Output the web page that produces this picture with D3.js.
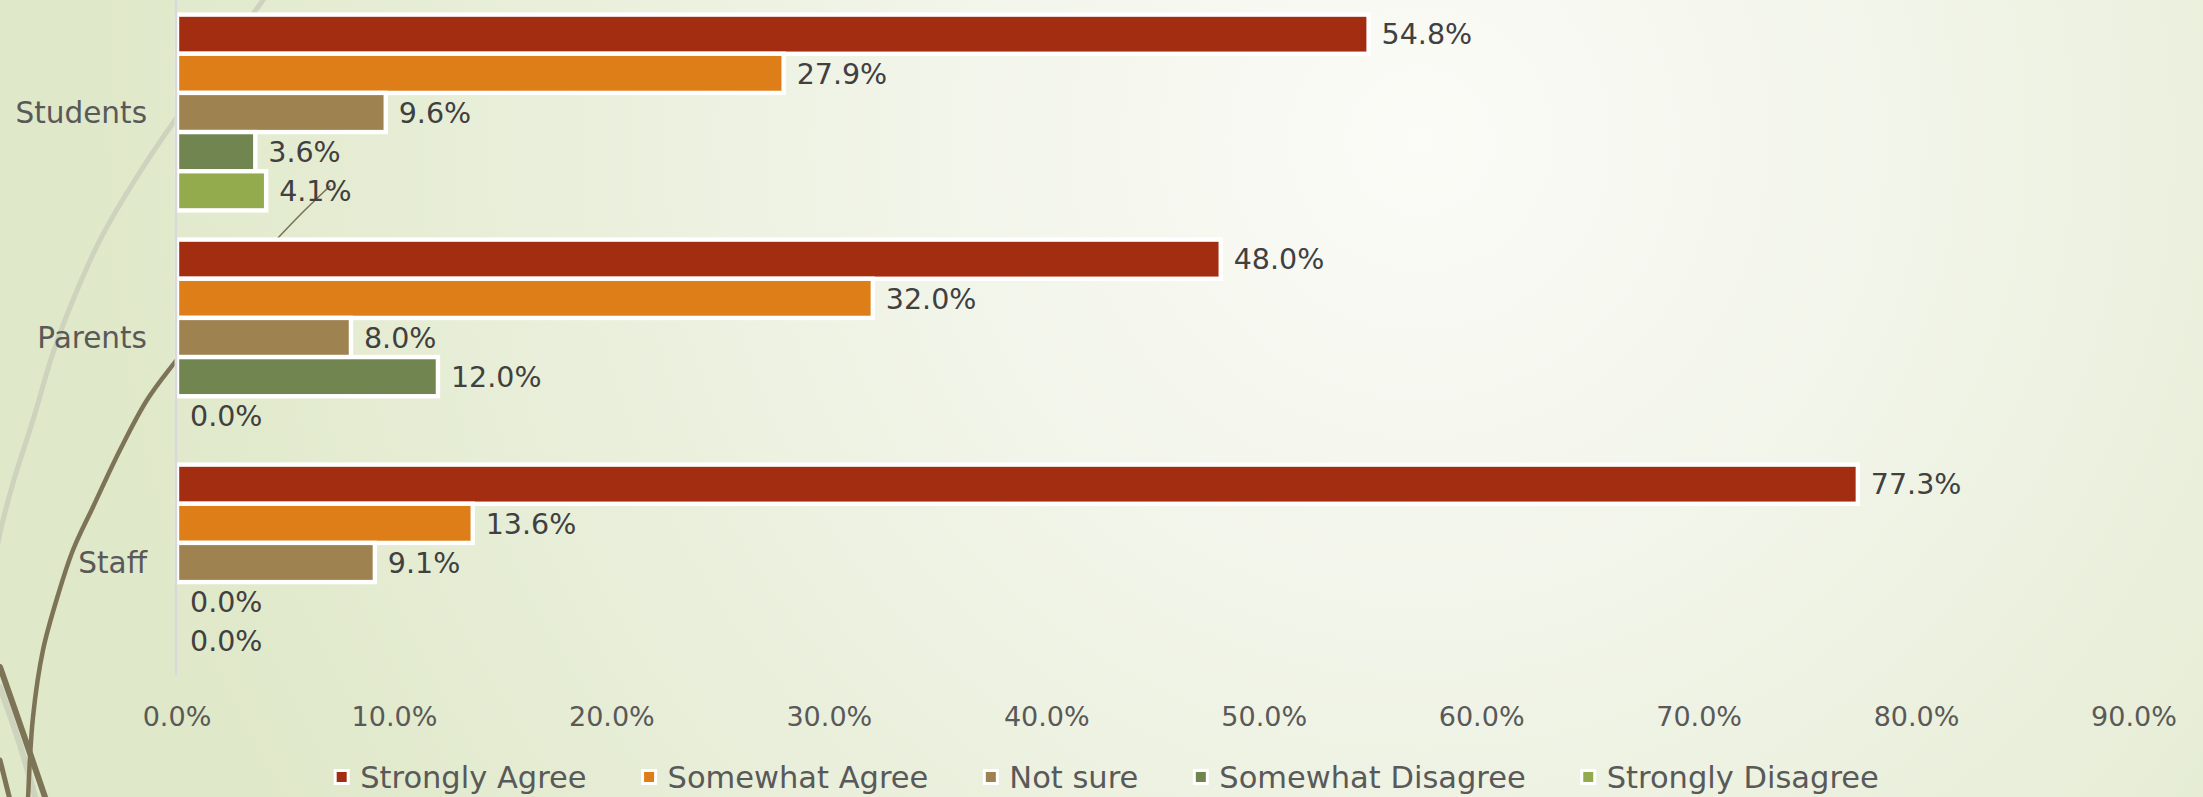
<!DOCTYPE html>
<html>
<head>
<meta charset="utf-8">
<script src="https://d3js.org/d3.v7.min.js"></script>
<style>
  html, body { margin: 0; padding: 0; overflow: hidden; }
  text { font-family: "DejaVu Sans", sans-serif; }
</style>
</head>
<body>
<div id="chart"></div>
<script>
var categories = ["Students", "Parents", "Staff"];
var seriesNames = ["Strongly Agree", "Somewhat Agree", "Not sure", "Somewhat Disagree", "Strongly Disagree"];
var seriesColors = ["#A32D10", "#DD7E18", "#9E8250", "#718551", "#94AB4D"];

var stronglyAgree = [54.8, 48.0, 77.3];
var somewhatAgree = [27.9, 32.0, 13.6];
var notSure = [9.6, 8.0, 9.1];
var somewhatDisagree = [3.6, 12.0, 0.0];
var stronglyDisagree = [4.1, 0.0, 0.0];

var tickValues = [0, 10, 20, 30, 40, 50, 60, 70, 80, 90];

var allSeries = [stronglyAgree, somewhatAgree, notSure, somewhatDisagree, stronglyDisagree];

var width = 2203,
    height = 797;

var svg = d3.select("#chart")
  .append("svg")
    .attr("width", width)
    .attr("height", height);

// slide background
var defs = svg.append("defs");
var grad = defs.append("radialGradient")
    .attr("id", "bg")
    .attr("gradientUnits", "userSpaceOnUse")
    .attr("cx", 1420).attr("cy", 140).attr("r", 1350);
grad.append("stop").attr("offset", "0").attr("stop-color", "#FBFBF7");
grad.append("stop").attr("offset", "0.35").attr("stop-color", "#F2F5EA");
grad.append("stop").attr("offset", "1").attr("stop-color", "#DFE8C8");

svg.append("rect")
    .attr("width", width)
    .attr("height", height)
    .attr("fill", "url(#bg)");

// theme decoration curves
var deco = svg.append("g").attr("fill", "none").attr("stroke-linecap", "round");
var curve = d3.line().curve(d3.curveCatmullRom);
deco.append("path")
    .attr("d", curve([[275, -18], [263, 0], [175, 120], [133, 183], [100, 240], [73, 300], [53, 353],
                      [33, 420], [13, 483], [0, 533], [-8, 575]]))
    .attr("stroke", "#CDD3BD").attr("stroke-width", 5);
deco.append("path")
    .attr("d", curve([[0, 687], [20, 745], [36, 800]]))
    .attr("stroke", "#CDD3BD").attr("stroke-width", 6);
deco.append("path")
    .attr("d", curve([[0, 667], [22, 730], [46, 800]]))
    .attr("stroke", "#7D7457").attr("stroke-width", 6);
deco.append("path")
    .attr("d", curve([[0, 760], [10, 800]]))
    .attr("stroke", "#7D7457").attr("stroke-width", 5);
deco.append("path")
    .attr("d", curve([[330, 186], [300, 215], [262, 255]]))
    .attr("stroke", "#7D7457").attr("stroke-width", 1.6);
deco.append("path")
    .attr("d", curve([[262, 255], [218, 308], [175, 362], [147, 400], [120, 450], [93, 507], [73, 550],
                      [58, 595], [43, 650], [33, 717], [28, 800]]))
    .attr("stroke", "#7D7457").attr("stroke-width", 4.5);

// scales
var x = d3.scaleLinear()
  .domain([0, 90])
  .range([177, 2134]);

var y0 = d3.scaleBand()
  .domain(categories)
  .range([0, 675]);

var y1 = d3.scaleBand()
  .domain(seriesNames)
  .range([0, y0.bandwidth()])
  .paddingOuter(0.373)
  .paddingInner(0);

var rows = [];
categories.forEach(function(c, i) {
  seriesNames.forEach(function(s, j) {
    rows.push({cat: c, series: s, color: seriesColors[j], value: allSeries[j][i]});
  });
});

// bars
svg.append("g")
  .selectAll("rect")
  .data(rows.filter(function(d) { return d.value > 0; }))
  .enter()
  .append("rect")
    .attr("x", x(0))
    .attr("y", function(d) { return y0(d.cat) + y1(d.series); })
    .attr("width", function(d) { return x(d.value) - x(0); })
    .attr("height", y1.bandwidth())
    .attr("fill", function(d) { return d.color; })
    .attr("stroke", "#FFFFFF")
    .attr("stroke-width", 4.4);

// vertical axis line
svg.append("line")
    .attr("x1", x(0) - 1).attr("x2", x(0) - 1)
    .attr("y1", y0.range()[0]).attr("y2", y0.range()[1])
    .attr("stroke", "#D9D9D9")
    .attr("stroke-width", 2.5);

// data labels
svg.append("g")
  .selectAll("text")
  .data(rows)
  .enter()
  .append("text")
    .attr("x", function(d) { return x(d.value) + 13; })
    .attr("y", function(d) { return y0(d.cat) + y1(d.series) + y1.bandwidth() / 2; })
    .attr("dy", "0.36em")
    .attr("fill", "#404040")
    .style("font-size", "28.5px")
    .text(function(d) { return d.value.toFixed(1) + "%"; });

// category labels
svg.append("g")
  .selectAll("text")
  .data(categories)
  .enter()
  .append("text")
    .attr("x", 147)
    .attr("y", function(d) { return y0(d) + y0.bandwidth() / 2; })
    .attr("dy", "0.36em")
    .attr("text-anchor", "end")
    .attr("fill", "#595959")
    .style("font-size", "29.5px")
    .text(function(d) { return d; });

// X axis tick labels
svg.append("g")
  .selectAll("text")
  .data(tickValues)
  .enter()
  .append("text")
    .attr("x", function(d) { return x(d); })
    .attr("y", 716)
    .attr("dy", "0.36em")
    .attr("text-anchor", "middle")
    .attr("fill", "#595959")
    .style("font-size", "27px")
    .text(function(d) { return d.toFixed(1) + "%"; });

// legend
var legend = svg.append("g");
var items = legend.selectAll("g")
  .data(seriesNames)
  .enter()
  .append("g");

items.append("rect")
    .attr("width", 13)
    .attr("height", 13)
    .attr("y", 777 - 6.5)
    .attr("fill", function(d, i) { return seriesColors[i]; })
    .attr("stroke", "#FFFFFF")
    .attr("stroke-width", 3);

items.append("text")
    .attr("x", 25)
    .attr("y", 777)
    .attr("dy", "0.36em")
    .attr("fill", "#595959")
    .style("font-size", "30.5px")
    .text(function(d) { return d; });

var offsets = [], total = 0;
items.each(function() {
  var w = 25 + d3.select(this).select("text").node().getComputedTextLength();
  offsets.push(total);
  total += w + 56;
});
total -= 56;
var startX = 1107 - total / 2;
items.attr("transform", function(d, i) { return "translate(" + (startX + offsets[i]) + ",0)"; });
</script>
</body>
</html>
